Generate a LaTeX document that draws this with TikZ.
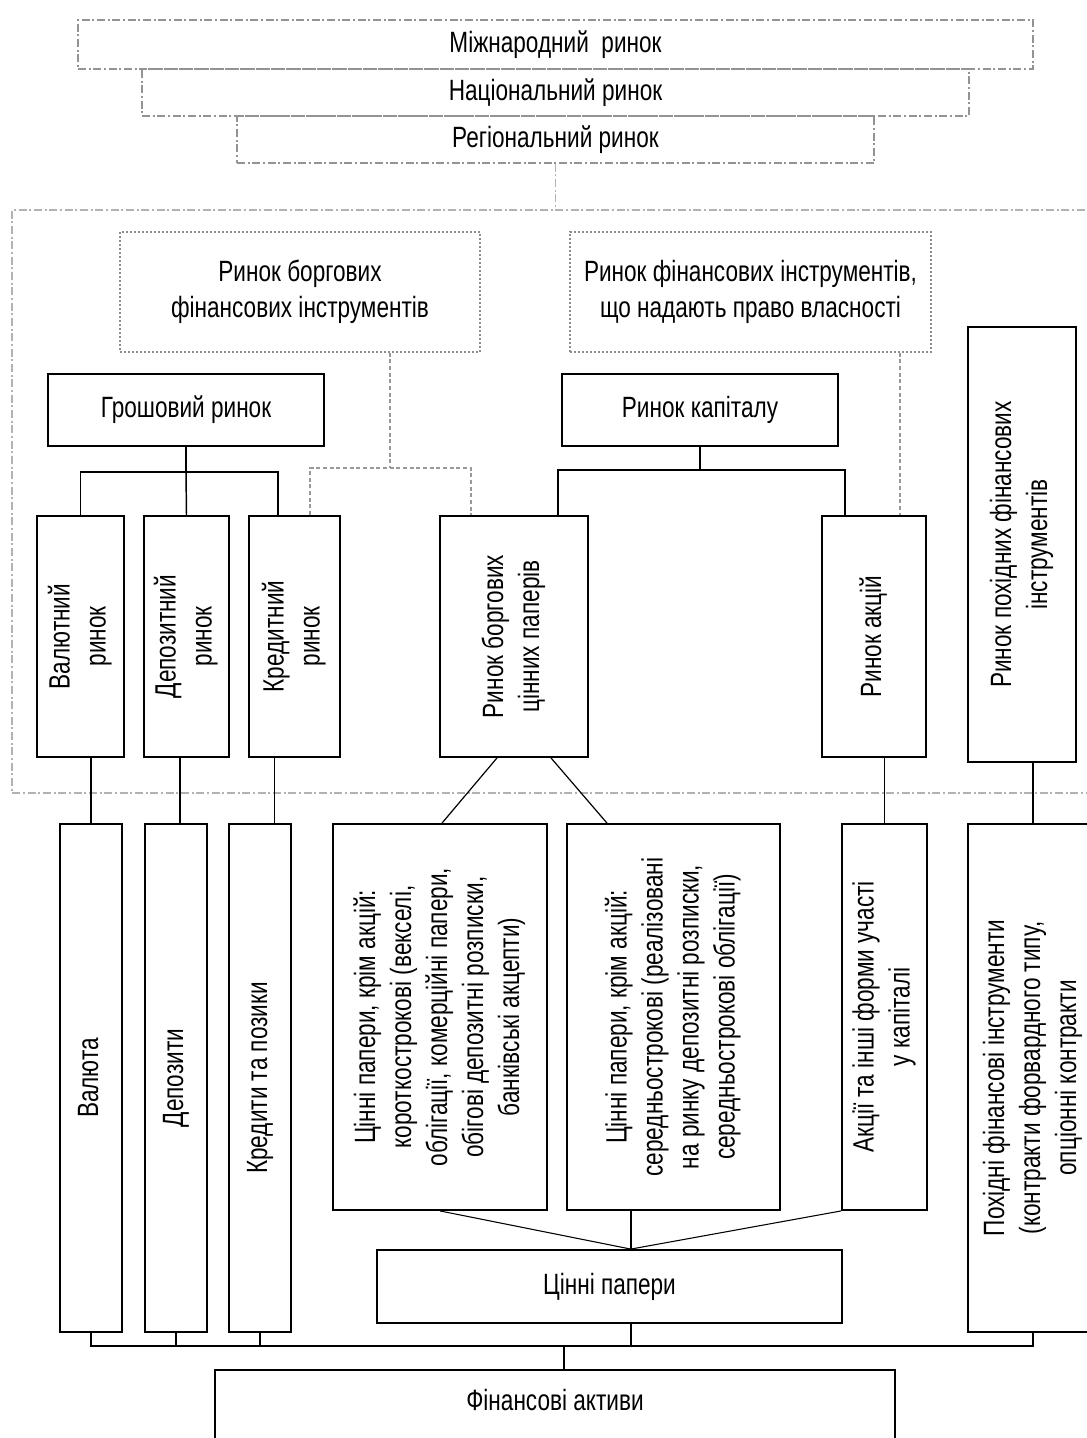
\documentclass[tikz,border=0pt]{standalone}
\usepackage{fontspec}
\setmainfont{Liberation Sans}[FakeStretch=0.77]
\usepackage{graphicx}
\newcommand{\vtext}[1]{\rotatebox{90}{\begin{tabular}{@{}c@{}}#1\end{tabular}}}
\tikzset{
    nodebase/.style={rectangle, inner sep=0pt, align=center, font=\fontsize{22}{27}\selectfont},
    sz/.style 2 args={minimum width=#1*0.75pt, minimum height=#2*0.75pt},
    solidbox/.style={nodebase, draw=black, line width=1.4pt},
    levelbox/.style={nodebase, draw=gray!85, line width=1pt, dash pattern=on 6pt off 2pt on 1.5pt off 2pt},
    dotbox/.style={nodebase, draw=gray!90, line width=1pt, dash pattern=on 1.5pt off 1.5pt},
    link/.style={draw=black, line width=1.1pt},
    dashlink/.style={draw=gray!80, line width=1pt, dash pattern=on 3pt off 2pt},
    frameline/.style={draw=gray!60, line width=1pt, dash pattern=on 6pt off 2pt on 1.5pt off 2pt}
}
\begin{document}
\begin{tikzpicture}[x=0.75pt, y=-0.75pt]
    \useasboundingbox[fill=white] (0,0) rectangle (1087,1438);

    % levels of the market
    \node (intl) [levelbox, sz={955}{49}] at (555.5,44.5) {Міжнародний~ ринок};
    \node (natl) [levelbox, sz={827}{47}] at (555.5,92.5) {Національний ринок};
    \node (regl) [levelbox, sz={637}{47}] at (555.5,139.5) {Регіональний ринок};
    \coordinate (ftop) at (555.5,210);
    \draw [frameline] (regl.south) -- (ftop);
    \draw [frameline] (1100,210) -- (12,210) -- (12,793) -- (1100,793);

    % markets
    \node (debt) [dotbox, sz={360}{120}] at (300,292) {Ринок боргових\\фінансових інструментів};
    \node (equity) [dotbox, sz={361}{120}] at (750.5,292) {Ринок фінансових інструментів,\\що надають право власності};
    \node (money) [solidbox, sz={276}{72}] at (186,410) {Грошовий ринок};
    \node (capital) [solidbox, sz={276}{72}] at (700,410) {Ринок капіталу};
    \node (deriv) [solidbox, sz={108}{435}] at (1022,544.5) {\vtext{Ринок похідних фінансових\\інструментів}};

    \node (fx) [solidbox, sz={87}{241}] at (80.5,636.5) {\vtext{Валютний\\ринок}};
    \node (depo) [solidbox, sz={85}{241}] at (186.5,636.5) {\vtext{Депозитний\\ринок}};
    \node (credit) [solidbox, sz={91}{241}] at (294.5,636.5) {\vtext{Кредитний\\ринок}};
    \node (bonds) [solidbox, sz={148}{241}] at (514,636.5) {\vtext{Ринок боргових\\цінних паперів}};
    \node (shares) [solidbox, sz={104}{241}] at (874,636.5) {\vtext{Ринок акцій}};

    % assets
    \node (cur) [solidbox, sz={62}{508}] at (91,1078) {\vtext{Валюта}};
    \node (dep) [solidbox, sz={62}{508}] at (176,1078) {\vtext{Депозити}};
    \node (loans) [solidbox, sz={62}{508}] at (260,1078) {\vtext{Кредити та позики}};
    \node (sst) [solidbox, sz={214}{386}] at (440,1017) {\vtext{Цінні папери, крім акцій:\\короткострокові (векселі,\\облігації, комерційні папери,\\обігові депозитні розписки,\\банківські акцепти)}};
    \node (mst) [solidbox, sz={213}{386}] at (673.5,1017) {\vtext{Цінні папери, крім акцій:\\середньострокові (реалізовані\\на ринку депозитні розписки,\\середньострокові облігації)}};
    \node (eq) [solidbox, sz={85}{386}] at (884.5,1017) {\vtext{Акції та інші форми участі\\у капіталі}};
    \node (drv) [solidbox, sz={130}{508}] at (1033,1078) {\vtext{Похідні фінансові інструменти\\(контракти форвардного типу,\\опціонні контракти}};
    \node (sec) [solidbox, sz={465}{73}] at (609.5,1286.5) {Цінні папери};
    \node (fin) [solidbox, sz={680}{100}] at (555,1420) {\raisebox{30pt}{Фінансові активи}};

    % money market
    \coordinate (mbus) at (186,472);
    \draw [link] (money.south) -- (mbus);
    \draw [link] (fx.north) |- (mbus) -| ([xshift=-12.4pt]credit.north);
    \draw [link] (mbus) -- (depo.north);

    % debt instruments
    \coordinate (dbus) at (390,468);
    \draw [dashlink] (debt.south -| dbus) -- (dbus);
    \draw [dashlink] ([xshift=11.6pt]credit.north) |- (dbus) -| ([xshift=-32.25pt]bonds.north);

    % capital market
    \coordinate (cbus) at (700,470);
    \draw [link] (capital.south) -- (cbus);
    \draw [link] ([xshift=33pt]bonds.north) |- (cbus) -| ([xshift=-21.75pt]shares.north);
    \coordinate (eqd) at ([xshift=19.5pt]shares.north);
    \draw [dashlink] (equity.south -| eqd) -- (eqd);

    % markets to assets
    \draw [link] (cur.north) -- (cur.north |- fx.south);
    \draw [link] ([xshift=3pt]dep.north) -- ([xshift=3pt]dep.north |- depo.south);
    \draw [link] ([xshift=11pt]loans.north) -- ([xshift=11pt]loans.north |- credit.south);
    \draw [link, line width=0.9pt] ([xshift=-12.75pt]bonds.south) -- ([xshift=1.5pt]sst.north);
    \draw [link, line width=0.9pt] ([xshift=27.75pt]bonds.south) -- ([xshift=-49.9pt]mst.north);
    \draw [link] (eq.north) -- (eq.north |- shares.south);
    \draw [link] (drv.north) -- (drv.north |- deriv.south);

    % securities
    \coordinate (sj) at ([xshift=16pt]sec.north);
    \draw [link, line width=0.8pt] (sst.south) -- (sj);
    \draw [link] (sj |- mst.south) -- (sj);
    \draw [link, line width=0.8pt] (eq.south west) -- (sj);

    % financial assets
    \coordinate (fj) at ([xshift=6.75pt]fin.north);
    \coordinate (bus) at (564,1346);
    \draw [link] (bus) -- (fj);
    \draw [link] (cur.south) |- (bus) -| (drv.south);
    \draw [link] (dep.south) -- (dep.south |- bus);
    \draw [link] (loans.south) -- (loans.south |- bus);
    \draw [link] (sj |- sec.south) -- (sj |- bus);
\end{tikzpicture}
\end{document}
